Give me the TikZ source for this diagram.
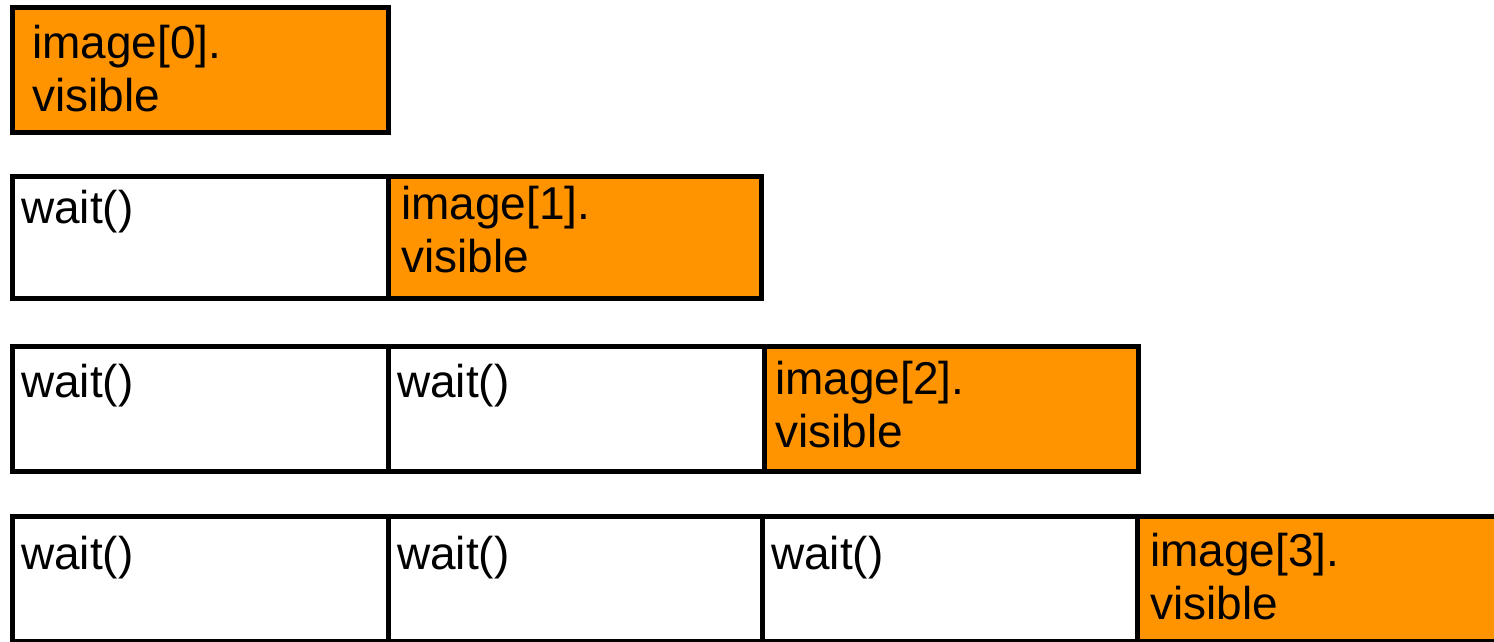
\documentclass[tikz,border=0pt]{standalone}
\usepackage{fontspec}
\setmainfont{Liberation Sans}
\definecolor{boxorange}{RGB}{255,148,0}
\begin{document}
\begin{tikzpicture}[x=1pt,y=-1pt,
  cell/.style={draw=black, line width=5pt, minimum height=124pt,
    anchor=north west, inner sep=0pt, outer sep=0pt},
  busy/.style={cell, fill=boxorange},
  idle/.style={cell, fill=white},
  txt/.style={anchor=base west, inner sep=0pt, outer sep=0pt,
    font=\fontsize{46}{53}\selectfont, align=left}]
\useasboundingbox (0,0) rectangle (1494,641);
\clip (0,0) rectangle (1494,641);
% row 1
\node[busy, minimum width=376pt, minimum height=125pt] (r0c0) at (12,7) {};
% row 2
\node[idle, minimum width=376pt, minimum height=122pt] (r1c0) at (12,176) {};
\node[busy, minimum width=373.5pt, minimum height=122pt] (r1c1) at (388,176) {};
% row 3
\node[idle, minimum width=376pt, minimum height=124.5pt] (r2c0) at (12,346.5) {};
\node[idle, minimum width=376pt, minimum height=124.5pt] (r2c1) at (388,346.5) {};
\node[busy, minimum width=374pt, minimum height=124.5pt] (r2c2) at (764,346.5) {};
% row 4
\node[idle, minimum width=376pt, minimum height=125pt] (r3c0) at (12,516.5) {};
\node[idle, minimum width=374pt, minimum height=125pt] (r3c1) at (388,516.5) {};
\node[idle, minimum width=375.5pt, minimum height=125pt] (r3c2) at (762,516.5) {};
\node[busy, minimum width=375pt, minimum height=125pt] (r3c3) at (1137.5,516.5) {};
% texts
\node[txt] (t00) at ([xshift=20pt,yshift=-104.5pt]r0c0.north west) {image[0].\\visible};
\node[txt] (t10) at ([xshift=9pt,yshift=-47pt]r1c0.north west) {wait()};
\node[txt] (t11) at ([xshift=13pt,yshift=-96pt]r1c1.north west) {image[1].\\visible};
\node[txt] (t20) at ([xshift=9pt,yshift=-51pt]r2c0.north west) {wait()};
\node[txt] (t21) at ([xshift=9pt,yshift=-51pt]r2c1.north west) {wait()};
\node[txt] (t22) at ([xshift=11pt,yshift=-100.5pt]r2c2.north west) {image[2].\\visible};
\node[txt] (t30) at ([xshift=9pt,yshift=-53pt]r3c0.north west) {wait()};
\node[txt] (t31) at ([xshift=9pt,yshift=-53pt]r3c1.north west) {wait()};
\node[txt] (t32) at ([xshift=9pt,yshift=-53pt]r3c2.north west) {wait()};
\node[txt] (t33) at ([xshift=12.5pt,yshift=-102.5pt]r3c3.north west) {image[3].\\visible};
\end{tikzpicture}
\end{document}
